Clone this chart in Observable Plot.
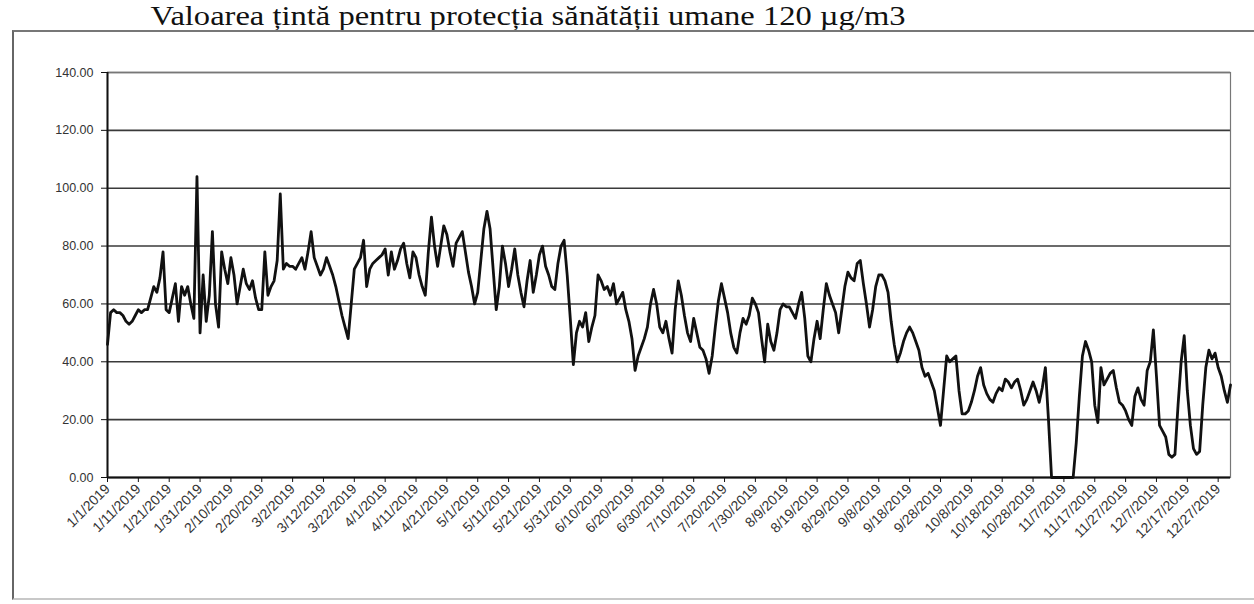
<!DOCTYPE html>
<html><head><meta charset="utf-8">
<script src="https://cdn.jsdelivr.net/npm/d3@7"></script>
<script src="https://cdn.jsdelivr.net/npm/@observablehq/plot@0.6"></script>
<style>
html,body{margin:0;padding:0;background:#fff;}
#wrap{position:relative;width:1254px;height:604px;overflow:hidden;}
#border{position:absolute;left:12px;top:30px;width:1260px;height:566px;border-left:2px solid #666;border-top:2px solid #777;border-bottom:2px solid #c8c8c8;pointer-events:none;}
#chart{position:absolute;left:0;top:0;}
</style></head><body>
<div id="wrap"><div id="chart"></div><div id="border"></div></div>
<script>
const title = "Valoarea țintă pentru protecția sănătății umane 120 µg/m3";
const startDate = "2019-01-01";
const values = [
46,57,58,57,57,56,54,53,54,56,
58,57,58,58,62,66,64,69,78,58,
57,62,67,54,66,63,66,60,55,104,
50,70,54,63,85,60,52,78,72,67,
76,70,60,66,72,67,65,68,62,58,
58,78,63,66,68,75,98,72,74,73,
73,72,74,76,72,78,85,76,73,70,
72,76,73,70,66,61,56,52,48,60,
72,74,76,82,66,72,74,75,76,77,
79,70,78,72,75,79,81,74,69,78,
76,70,66,63,78,90,80,73,80,87,
84,78,73,81,83,85,78,71,66,60,
64,75,86,92,86,72,58,66,80,74,
66,72,79,70,64,59,68,75,64,70,
77,80,73,70,66,65,74,80,82,70,
55,39,50,54,52,57,47,52,56,70,
68,65,66,63,67,60,62,64,58,54,
48,37,42,45,48,52,60,65,60,52,
50,54,48,43,58,68,63,56,50,47,
55,50,45,44,41,36,42,52,61,67,
62,57,50,45,43,50,55,53,56,62,
60,57,48,40,53,47,44,50,58,60,
59,59,57,55,60,64,55,42,40,48,
54,48,58,67,63,60,57,50,58,66,
71,69,68,74,75,67,60,52,58,66,
70,70,68,64,54,46,40,43,47,50,
52,50,47,44,38,35,36,33,30,24,
18,30,42,40,41,42,30,22,22,23,
26,30,35,38,32,29,27,26,29,31,
30,34,33,31,33,34,30,25,27,30,
33,30,26,31,38,20,0,0,0,0,
0,0,0,0,12,28,42,47,44,40,
25,19,38,32,34,36,37,31,26,25,
23,20,18,28,31,27,25,37,40,51,
35,18,16,14,8,7,8,25,40,49,
30,18,10,8,9,25,38,44,41,43,
38,35,30,26,32
];
const yTicks = [0, 20, 40, 60, 80, 100, 120, 140];
const xTickLabels = ["1/1/2019","1/11/2019","1/21/2019","1/31/2019","2/10/2019","2/20/2019","3/2/2019","3/12/2019","3/22/2019","4/1/2019","4/11/2019","4/21/2019","5/1/2019","5/11/2019","5/21/2019","5/31/2019","6/10/2019","6/20/2019","6/30/2019","7/10/2019","7/20/2019","7/30/2019","8/9/2019","8/19/2019","8/29/2019","9/8/2019","9/18/2019","9/28/2019","10/8/2019","10/18/2019","10/28/2019","11/7/2019","11/17/2019","11/27/2019","12/7/2019","12/17/2019","12/27/2019"];

const start = d3.utcParse("%Y-%m-%d")(startDate);
const days = values.map((v, i) => d3.utcDay.offset(start, i));
const data = values.map((v, i) => ({date: days[i], value: v}));
const parseLbl = d3.utcParse("%m/%d/%Y");
const tickDates = xTickLabels.map(s => parseLbl(s));
const labelMap = new Map(tickDates.map((d, i) => [+d, xTickLabels[i]]));

const chart = Plot.plot({
  width: 1254, height: 604,
  marginLeft: 107, marginRight: 24, marginTop: 72, marginBottom: 127,
  style: {fontFamily: "'Liberation Sans', Arial, sans-serif", fontSize: "12.5px", color: "#222", background: "transparent", overflow: "visible"},
  x: {type: "utc", domain: [days[0], days[days.length - 1]], label: null},
  y: {domain: [0, 140], label: null},
  marks: [
    Plot.ruleY(yTicks, {y: d => d, stroke: "#3a3a3a", strokeWidth: 1.6}),
    Plot.frame({stroke: "#777", strokeWidth: 1.2}),
    Plot.lineY(data, {x: "date", y: "value", stroke: "#111", strokeWidth: 2.8, strokeLinejoin: "round"}),
    Plot.ruleX([days[0]], {stroke: "#111", strokeWidth: 2}),
    Plot.ruleY([0], {stroke: "#111", strokeWidth: 2}),
    Plot.axisY({ticks: yTicks, tickFormat: d3.format(".2f"), tickSize: 6, tickPadding: 8, stroke: "#111", fill: "#333"}),
    Plot.axisX({ticks: tickDates, tickFormat: d => labelMap.get(+d), tickRotate: -45, tickSize: 5, tickPadding: 4, stroke: "#111", fill: "#333", fontSize: 14}),
    Plot.text([title], {frameAnchor: "top", dx: -141, dy: -48, lineAnchor: "bottom", fontSize: 27, fontFamily: "'Liberation Serif', 'Times New Roman', serif", fill: "#111", className: "ttl"})
  ]
});
document.getElementById("chart").appendChild(chart);
const tt = chart.querySelector(".ttl text");
if (tt) { tt.setAttribute("textLength", "755"); tt.setAttribute("lengthAdjust", "spacingAndGlyphs"); }
</script>
</body></html>
